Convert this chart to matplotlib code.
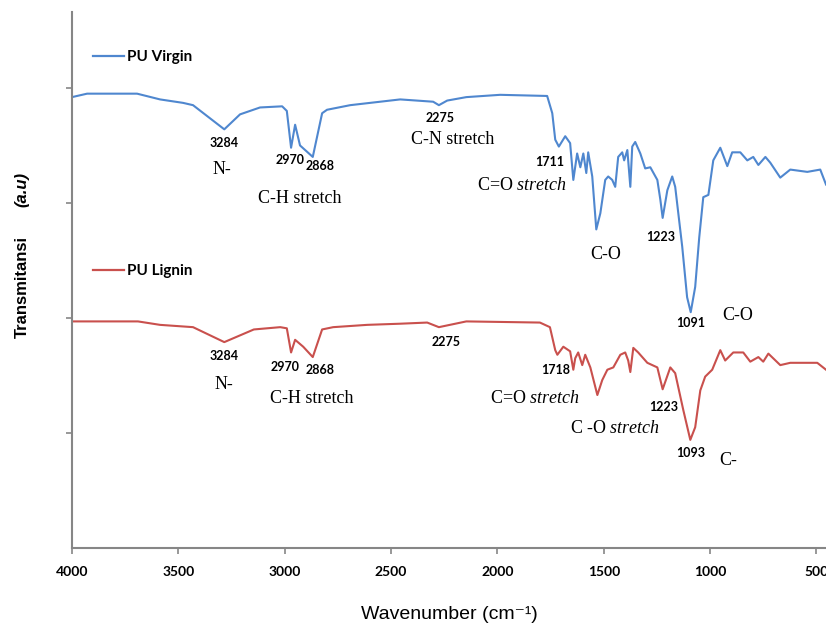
import matplotlib
matplotlib.use("Agg")
import matplotlib.pyplot as plt
from matplotlib.lines import Line2D
from matplotlib.legend import Legend

plt.rcParams["mathtext.fontset"] = "custom"
plt.rcParams["mathtext.rm"] = "Liberation Serif"
plt.rcParams["mathtext.it"] = "Liberation Serif:italic"

# ---------------- data ----------------
virgin_wn = [4000, 3929, 3694, 3586, 3478, 3431, 3284, 3210, 3116, 3012, 2990, 2970, 2951, 2928,
             2868, 2824, 2801, 2692, 2457, 2302, 2275, 2236, 2146, 1987, 1766, 1742, 1728, 1711,
             1681, 1658, 1643, 1625, 1610, 1596, 1582, 1573, 1554, 1535, 1516, 1493, 1479, 1460,
             1446, 1432, 1413, 1404, 1389, 1375, 1366, 1352, 1328, 1305, 1281, 1248, 1234, 1223,
             1201, 1178, 1164, 1131, 1108, 1091, 1070, 1051, 1032, 1008, 985, 952, 919, 896, 858,
             825, 797, 773, 740, 717, 670, 623, 543, 482, 455]
virgin_t = [3.92, 3.95, 3.95, 3.90, 3.87, 3.85, 3.64, 3.77, 3.83, 3.84, 3.80, 3.48, 3.68, 3.50,
            3.40, 3.78, 3.81, 3.85, 3.90, 3.88, 3.85, 3.89, 3.92, 3.94, 3.93, 3.78, 3.55, 3.49,
            3.58, 3.52, 3.20, 3.43, 3.31, 3.43, 3.26, 3.44, 3.23, 2.77, 2.91, 3.20, 3.23, 3.20,
            3.14, 3.40, 3.44, 3.37, 3.46, 3.14, 3.49, 3.53, 3.43, 3.30, 3.31, 3.20, 3.03, 2.87,
            3.11, 3.23, 3.14, 2.62, 2.18, 2.05, 2.27, 2.70, 3.05, 3.07, 3.37, 3.48, 3.32, 3.44, 3.44,
            3.37, 3.40, 3.33, 3.40, 3.35, 3.22, 3.29, 3.27, 3.29, 3.16]

lignin_wn = [4000, 3690, 3586, 3431, 3284, 3145, 3021, 2990, 2970, 2951, 2913, 2868, 2824, 2772,
             2612, 2457, 2330, 2275, 2146, 1800, 1753, 1728, 1718, 1690, 1658, 1643, 1634, 1620,
             1601, 1587, 1563, 1530, 1507, 1483, 1455, 1422, 1399, 1385, 1375, 1361, 1338, 1295,
             1248, 1223, 1187, 1164, 1126, 1093, 1070, 1046, 1023, 990, 952, 929, 891, 844, 811,
             773, 750, 726, 670, 623, 496, 455]
lignin_t = [1.97, 1.97, 1.94, 1.92, 1.79, 1.90, 1.92, 1.91, 1.70, 1.81, 1.75, 1.66, 1.90, 1.92,
            1.94, 1.95, 1.96, 1.92, 1.97, 1.96, 1.92, 1.72, 1.68, 1.75, 1.71, 1.55, 1.65, 1.70,
            1.59, 1.68, 1.57, 1.33, 1.46, 1.55, 1.57, 1.68, 1.70, 1.63, 1.53, 1.74, 1.70, 1.61,
            1.57, 1.38, 1.57, 1.52, 1.20, 0.94, 1.05, 1.37, 1.49, 1.55, 1.72, 1.63, 1.70, 1.70, 1.62,
            1.66, 1.62, 1.69, 1.59, 1.61, 1.61, 1.55]

series_names = ["PU Virgin", "PU Lignin"]
x_ticks = [4000, 3500, 3000, 2500, 2000, 1500, 1000, 500]
x_label = "Wavenumber (cm\u207b\u00b9)"

# ---------------- figure ----------------
BLUE = "#4f87cf"
RED = "#c9504d"
NUMF = ["Lato", "DejaVu Sans"]
SERIF = ["Liberation Serif", "DejaVu Serif"]
SANS = ["Liberation Sans", "DejaVu Sans"]

fig = plt.figure(figsize=(8.26, 6.27), dpi=100)
ax = fig.add_axes([72/826, (627-548)/627, (826-72)/826, (548-12)/627])

ax.plot(virgin_wn, virgin_t, color=BLUE, lw=1.5)
ax.plot(lignin_wn, lignin_t, color=RED, lw=1.5)

ax.set_xlim(4000, 455)
ax.set_ylim(0, 4.66)
ax.set_xticks(x_ticks)
ax.set_xticklabels([str(v) for v in x_ticks], family=NUMF, fontweight="bold", fontsize=10)
ax.set_yticks([1, 2, 3, 4])
ax.set_yticklabels([])
ax.tick_params(axis="both", direction="out", length=4, color="#868686", width=1.2)
ax.tick_params(axis="x", pad=9)
for s in ["top", "right"]:
    ax.spines[s].set_visible(False)
for s in ["left", "bottom"]:
    ax.spines[s].set_color("#868686")
    ax.spines[s].set_linewidth(1.5)

ax.set_xlabel(x_label, fontsize=14, family=SANS, labelpad=20)

fig.text(22/826, 1 - 287/627, "Transmitansi", rotation=90, ha="center", va="center",
         fontsize=12, fontweight="bold", family=SANS)
fig.text(22/826, 1 - 190/627, "(a.u)", rotation=90, ha="center", va="center",
         fontsize=12, fontweight="bold", fontstyle="italic", family=SANS)

# legends
for name, col, yfrac in [(series_names[0], BLUE, (548-57)/536), (series_names[1], RED, (548-271)/536)]:
    leg = Legend(ax, [Line2D([], [], color=col, lw=1.6)], [name],
                 loc="center left", bbox_to_anchor=(0.028, yfrac), frameon=False,
                 borderpad=0, borderaxespad=0, handlelength=2.0, handletextpad=0.2,
                 prop={"family": NUMF, "weight": "bold", "size": 11})
    ax.add_artist(leg)

def num(x, y, s):
    ax.text(x, y, s, ha="center", va="center", fontsize=9, fontweight="bold", family=NUMF)

def lab(x, y, s, **kw):
    ax.text(x, y, s, ha="center", va="center", fontsize=13, family=SERIF, **kw)

# Virgin annotations
num(3285, 3.52, "3284"); lab(3294, 3.29, "N-")
num(2975, 3.37, "2970"); num(2833, 3.32, "2868")
lab(2928, 3.04, "C-H stretch")
num(2269, 3.74, "2275"); lab(2208, 3.55, "C-N stretch")
num(1752, 3.36, "1711")
lab(1883, 3.15, "C=O$\\it{\\ stretch}$")
lab(1493, 2.55, "C-O")
num(1234, 2.70, "1223")
num(1093, 1.96, "1091"); lab(872, 2.02, "C-O")

# Lignin annotations
num(3285, 1.67, "3284"); lab(3285, 1.42, "N-")
num(2998, 1.57, "2970"); num(2833, 1.55, "2868")
lab(2871, 1.30, "C-H stretch")
num(2241, 1.79, "2275")
num(1728, 1.55, "1718")
lab(1822, 1.30, "C=O$\\it{\\ stretch}$")
lab(1446, 1.04, "C -O$\\it{\\ stretch}$")
num(1220, 1.23, "1223")
num(1093, 0.83, "1093"); lab(914, 0.76, "C-")

fig.savefig("out.png", dpi=100)
